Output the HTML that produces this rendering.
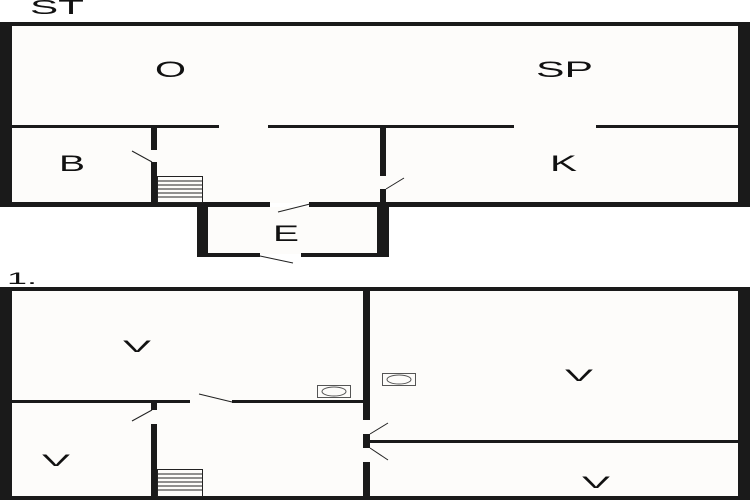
<!DOCTYPE html>
<html><head><style>
html,body{margin:0;padding:0;background:#fff;}
svg{display:block;}
text{font-family:"Liberation Sans",sans-serif;fill:#111;}
</style></head><body>
<svg width="750" height="500" viewBox="0 0 750 500" xmlns="http://www.w3.org/2000/svg">
<rect width="750" height="500" fill="#fff"/>
<rect x="12" y="26" width="726" height="177" fill="#fdfcfa"/>
<rect x="208" y="207" width="170" height="47" fill="#fdfcfa"/>
<g fill="#1a1a1a">
<rect x="0" y="22" width="750" height="4"/>
<rect x="0" y="22" width="12" height="185"/>
<rect x="738" y="22" width="12" height="185"/>
<rect x="0" y="202" width="270" height="5"/>
<rect x="309" y="202" width="441" height="5"/>
<rect x="12" y="125" width="207" height="3"/>
<rect x="268" y="125" width="246" height="3"/>
<rect x="596" y="125" width="142" height="3"/>
<rect x="151" y="126" width="6" height="24"/>
<rect x="151" y="162" width="6" height="43"/>
<rect x="380" y="126" width="6" height="50"/>
<rect x="380" y="189" width="6" height="16"/>
<rect x="197" y="203" width="11" height="54"/>
<rect x="377" y="203" width="12" height="54"/>
<rect x="197" y="253" width="63" height="4"/>
<rect x="301" y="253" width="88" height="4"/>
</g>
<g stroke="#222" stroke-width="1" fill="none">
<line x1="132" y1="151" x2="152" y2="162"/>
<line x1="386" y1="189" x2="404" y2="178"/>
<line x1="278" y1="212" x2="310" y2="204"/>
<line x1="260" y1="256" x2="293" y2="263"/>
<rect x="157.5" y="176.5" width="45" height="26"/>
<line x1="157" y1="181" x2="203" y2="181"/><line x1="157" y1="185" x2="203" y2="185"/>
<line x1="157" y1="189" x2="203" y2="189"/><line x1="157" y1="193" x2="203" y2="193"/>
<line x1="157" y1="197" x2="203" y2="197"/>
</g>
<text x="30" y="14" font-size="20" textLength="54" lengthAdjust="spacingAndGlyphs">ST</text>
<text x="155" y="77" font-size="22" textLength="31" lengthAdjust="spacingAndGlyphs">O</text>
<text x="536" y="77" font-size="22" textLength="57" lengthAdjust="spacingAndGlyphs">SP</text>
<text x="59" y="171" font-size="22" textLength="26" lengthAdjust="spacingAndGlyphs">B</text>
<text x="550" y="171" font-size="22" textLength="27" lengthAdjust="spacingAndGlyphs">K</text>
<text x="273" y="241" font-size="22" textLength="26" lengthAdjust="spacingAndGlyphs">E</text>
<text x="7" y="284" font-size="17" font-family="Liberation Mono" textLength="30" lengthAdjust="spacingAndGlyphs">1.</text>
<rect x="12" y="291" width="726" height="205" fill="#fdfcfa"/>
<g fill="#1a1a1a">
<rect x="0" y="287" width="750" height="4"/>
<rect x="0" y="287" width="12" height="213"/>
<rect x="738" y="287" width="12" height="213"/>
<rect x="0" y="496" width="750" height="4"/>
<rect x="363" y="291" width="7" height="129"/>
<rect x="363" y="434" width="7" height="14"/>
<rect x="363" y="462" width="7" height="38"/>
<rect x="12" y="400" width="178" height="3"/>
<rect x="232" y="400" width="131" height="3"/>
<rect x="370" y="440" width="368" height="3"/>
<rect x="151" y="402" width="6" height="8"/>
<rect x="151" y="424" width="6" height="74"/>
</g>
<g stroke="#222" stroke-width="1" fill="none">
<line x1="132" y1="421" x2="152" y2="410"/>
<line x1="199" y1="394" x2="232" y2="402"/>
<line x1="370" y1="434" x2="388" y2="423"/>
<line x1="370" y1="448" x2="388" y2="460"/>
<rect x="157.5" y="469.5" width="45" height="27"/>
<line x1="157" y1="474" x2="203" y2="474"/><line x1="157" y1="478" x2="203" y2="478"/>
<line x1="157" y1="482" x2="203" y2="482"/><line x1="157" y1="486" x2="203" y2="486"/>
<line x1="157" y1="490" x2="203" y2="490"/>
</g>
<g stroke="#555" stroke-width="1" fill="none">
<rect x="317.5" y="385.5" width="33" height="12"/>
<ellipse cx="334" cy="391.5" rx="12" ry="4.5"/>
<rect x="382.5" y="373.5" width="33" height="12"/>
<ellipse cx="399" cy="379.5" rx="12" ry="4.5"/>
</g>
<text x="123" y="352" font-size="17" textLength="28" lengthAdjust="spacingAndGlyphs">V</text>
<text x="42" y="466" font-size="17" textLength="28" lengthAdjust="spacingAndGlyphs">V</text>
<text x="565" y="381" font-size="17" textLength="28" lengthAdjust="spacingAndGlyphs">V</text>
<text x="582" y="488" font-size="17" textLength="28" lengthAdjust="spacingAndGlyphs">V</text>
</svg>
</body></html>
